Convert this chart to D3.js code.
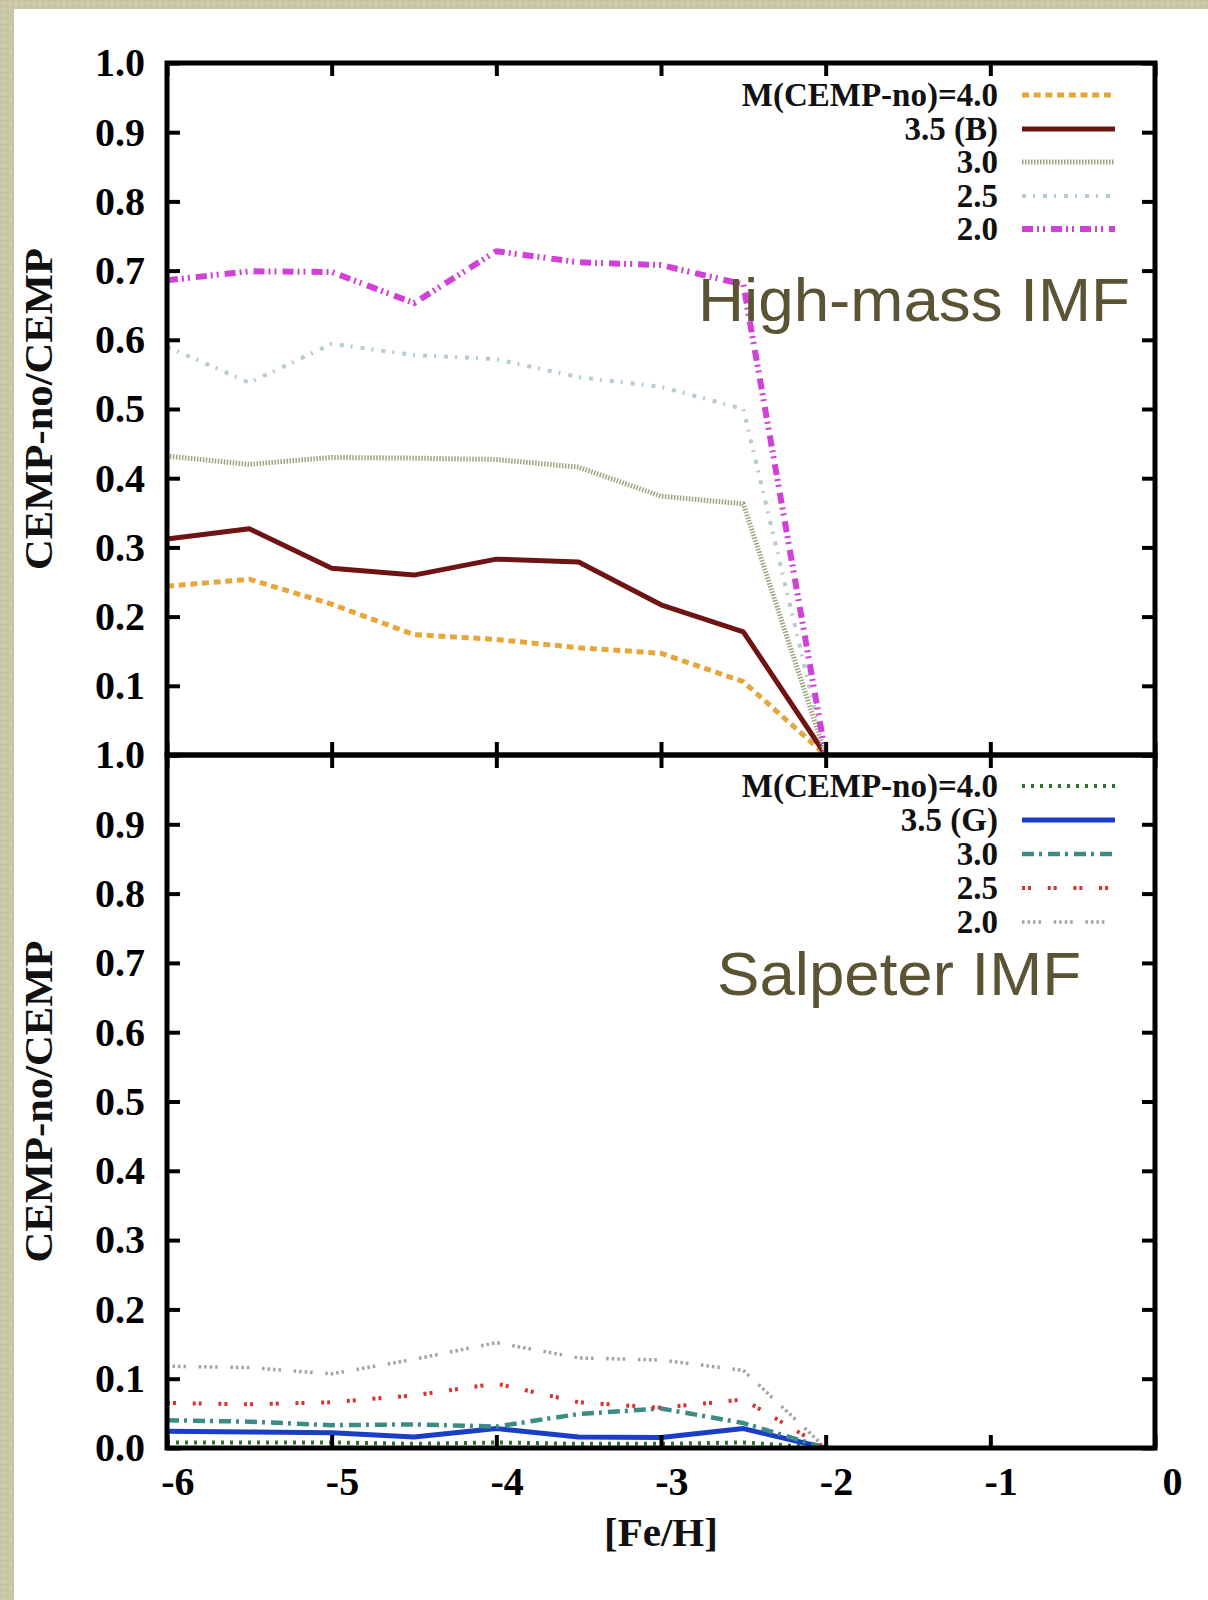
<!DOCTYPE html>
<html>
<head>
<meta charset="utf-8">
<script src="https://cdn.jsdelivr.net/npm/d3@7"></script>
<style>
  html, body { margin: 0; padding: 0; background: #ffffff; }
  svg { display: block; }
</style>
</head>
<body>
<svg id="chart" width="1208" height="1600"></svg>
<script>
// [Fe/H] grid of the model runs
const feH = [-6, -5.5, -5, -4.5, -4, -3.5, -3, -2.5, -2];

// CEMP-no / CEMP fraction, high-mass IMF
const highMassLabels = ["M(CEMP-no)=4.0", "3.5 (B)", "3.0", "2.5", "2.0"];
const highMass40 = [0.244, 0.254, 0.218, 0.174, 0.167, 0.155, 0.147, 0.106, 0];
const highMass35 = [0.312, 0.327, 0.270, 0.260, 0.283, 0.279, 0.217, 0.178, 0];
const highMass30 = [0.432, 0.420, 0.430, 0.429, 0.427, 0.416, 0.374, 0.363, 0];
const highMass25 = [0.590, 0.538, 0.594, 0.578, 0.572, 0.546, 0.532, 0.500, 0];
const highMass20 = [0.686, 0.699, 0.698, 0.653, 0.728, 0.712, 0.708, 0.680, 0];

// CEMP-no / CEMP fraction, Salpeter IMF
const salpeterLabels = ["M(CEMP-no)=4.0", "3.5 (G)", "3.0", "2.5", "2.0"];
const salpeter40 = [0.008, 0.008, 0.008, 0.006, 0.008, 0.006, 0.006, 0.008, 0];
const salpeter35 = [0.024, 0.023, 0.022, 0.016, 0.028, 0.016, 0.015, 0.028, 0];
const salpeter30 = [0.040, 0.038, 0.033, 0.034, 0.031, 0.049, 0.057, 0.036, 0];
const salpeter25 = [0.065, 0.063, 0.066, 0.076, 0.093, 0.066, 0.058, 0.070, 0];
const salpeter20 = [0.118, 0.116, 0.107, 0.128, 0.152, 0.130, 0.127, 0.112, 0];

// axis ticks and titles
const xTicks = [-6, -5, -4, -3, -2, -1, 0];
const xTickLabels = ["-6", "-5", "-4", "-3", "-2", "-1", "0"];
const yTicks = [0, 0.1, 0.2, 0.3, 0.4, 0.5, 0.6, 0.7, 0.8, 0.9, 1.0];
const xTitle = "[Fe/H]";
const yTitle = "CEMP-no/CEMP";
const panelTitles = ["High-mass IMF", "Salpeter IMF"];

// line styles, one per mass
const highMassStyles = [
  { color: "#e6a63a", width: 5, dash: "7,4.7" },
  { color: "#6e1414", width: 5, dash: null },
  { color: "#a2a27e", width: 5, dash: "1.5,1.5" },
  { color: "#b6cad4", width: 4, dash: "4,7,2,8" },
  { color: "#d042d6", width: 6, dash: "11,4,2,4,2,6" }
];
const salpeterStyles = [
  { color: "#2f6f2f", width: 4, dash: "3,6" },
  { color: "#1a3ec6", width: 5, dash: null },
  { color: "#3c8c86", width: 4.5, dash: "12,5,3,6" },
  { color: "#d8332c", width: 4, dash: "3,3,3,16.7" },
  { color: "#a2a2a2", width: 3.5, dash: "2.5,3,2.5,3,2.5,3,2.5,12.7" }
];

const svg = d3.select("#chart");
const W = 1208, H = 1600;

// linen-like backdrop with a white card on top
const defs = svg.append("defs");
const pat = defs.append("pattern").attr("id", "linen")
  .attr("width", 6).attr("height", 6).attr("patternUnits", "userSpaceOnUse");
pat.append("rect").attr("width", 6).attr("height", 6).attr("fill", "#cbc8a8");
pat.append("rect").attr("x", 0).attr("y", 0).attr("width", 3).attr("height", 1).attr("fill", "#bfbb98");
pat.append("rect").attr("x", 3).attr("y", 3).attr("width", 1).attr("height", 3).attr("fill", "#d6d3b8");
pat.append("rect").attr("x", 1).attr("y", 4).attr("width", 2).attr("height", 1).attr("fill", "#c3bf9e");
svg.append("rect").attr("width", W).attr("height", H).attr("fill", "url(#linen)");
svg.append("rect").attr("x", 14).attr("y", 9).attr("width", W - 14).attr("height", H - 9).attr("fill", "#ffffff");

const left = 167, right = 1155;
const x = d3.scaleLinear().domain([-6, 0]).range([left, right]);
const yTop = d3.scaleLinear().domain([0, 1]).range([755, 63]);
const yBot = d3.scaleLinear().domain([0, 1]).range([1448, 755]);

const serif = "'Liberation Serif', 'Times New Roman', serif";
const fmt = d3.format(".1f");

function drawPanel(y, seriesValues, labels, styles, title, titlePos, legendRows, showZeroLabel, showXLabels) {
  const g = svg.append("g");

  // data lines
  seriesValues.forEach((vals, i) => {
    const st = styles[i];
    const line = d3.line().x((d, j) => x(feH[j])).y(d => y(d));
    g.append("path").datum(vals)
      .attr("d", line)
      .attr("fill", "none")
      .attr("stroke", st.color)
      .attr("stroke-width", st.width)
      .attr("stroke-dasharray", st.dash)
      .attr("stroke-linejoin", "round");
  });

  // left axis with labels (ticks pointing inward)
  const yAxisL = d3.axisLeft(y).tickValues(yTicks).tickSizeInner(-13).tickSizeOuter(0).tickPadding(22)
    .tickFormat(d => (d === 0 && !showZeroLabel) ? "" : fmt(d));
  const gl = g.append("g").attr("transform", `translate(${left},0)`).call(yAxisL);
  // right axis, ticks only
  const yAxisR = d3.axisRight(y).tickValues(yTicks).tickSizeInner(-13).tickSizeOuter(0).tickFormat("");
  const gr = g.append("g").attr("transform", `translate(${right},0)`).call(yAxisR);
  // top and bottom x ticks
  const xAxisT = d3.axisTop(x).tickValues(xTicks).tickSizeInner(-13).tickSizeOuter(0).tickFormat("");
  const gt = g.append("g").attr("transform", `translate(0,${y(1)})`).call(xAxisT);
  const xAxisB = d3.axisBottom(x).tickValues(xTicks).tickSizeInner(-13).tickSizeOuter(0).tickPadding(19)
    .tickFormat((d, i) => showXLabels ? xTickLabels[i] : "");
  const gb = g.append("g").attr("transform", `translate(0,${y(0)})`).call(xAxisB);

  [gl, gr, gt, gb].forEach(a => {
    a.select(".domain").remove();
    a.selectAll(".tick line").attr("stroke", "#000").attr("stroke-width", 4);
    a.selectAll("text").attr("font-family", serif).attr("font-weight", "bold")
      .attr("font-size", 40).attr("fill", "#000");
  });
  gb.selectAll("text").attr("text-anchor", "end").attr("x", 27);

  // frame
  g.append("rect").attr("x", left).attr("y", y(1))
    .attr("width", right - left).attr("height", y(0) - y(1))
    .attr("fill", "none").attr("stroke", "#000").attr("stroke-width", 5);

  // legend
  labels.forEach((lab, i) => {
    const ry = legendRows[i];
    g.append("text").attr("x", 998).attr("y", ry + 11)
      .attr("text-anchor", "end")
      .attr("font-family", serif).attr("font-weight", "bold").attr("font-size", 33)
      .attr("fill", "#111").text(lab);
    const st = styles[i];
    g.append("line").attr("x1", 1022).attr("x2", 1115).attr("y1", ry).attr("y2", ry)
      .attr("stroke", st.color).attr("stroke-width", st.width)
      .attr("stroke-dasharray", st.dash);
  });

  // panel caption
  g.append("text").attr("x", titlePos[0]).attr("y", titlePos[1])
    .attr("font-family", "'Liberation Sans', Arial, sans-serif")
    .attr("font-size", 62).attr("fill", "#5a5334")
    .attr("textLength", titlePos[2]).attr("lengthAdjust", "spacingAndGlyphs")
    .text(title);

  // y title
  const cy = (y(0) + y(1)) / 2;
  g.append("text")
    .attr("transform", `translate(52,${cy}) rotate(-90)`)
    .attr("text-anchor", "middle")
    .attr("font-family", serif).attr("font-weight", "bold").attr("font-size", 40)
    .attr("textLength", 322).attr("lengthAdjust", "spacingAndGlyphs")
    .attr("fill", "#111").text(yTitle);
}

drawPanel(yTop, [highMass40, highMass35, highMass30, highMass25, highMass20],
  highMassLabels, highMassStyles, panelTitles[0], [698, 321, 432],
  [95, 129, 162, 196, 229], false, false);

drawPanel(yBot, [salpeter40, salpeter35, salpeter30, salpeter25, salpeter20],
  salpeterLabels, salpeterStyles, panelTitles[1], [717, 995, 364],
  [786, 820, 854, 888, 922], true, true);

// x title
svg.append("text").attr("x", (left + right) / 2).attr("y", 1546)
  .attr("text-anchor", "middle")
  .attr("font-family", serif).attr("font-weight", "bold").attr("font-size", 41)
  .attr("fill", "#111").text(xTitle);
</script>
